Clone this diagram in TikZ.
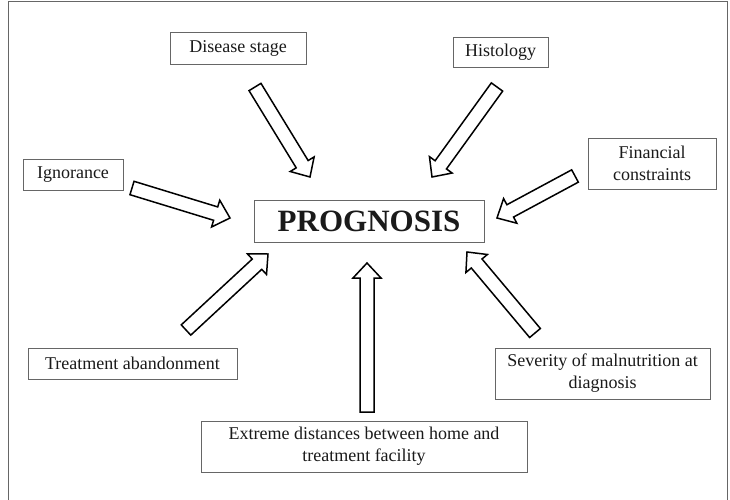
\documentclass[tikz,border=0pt]{standalone}
\usepackage{fontspec}
\setmainfont{Liberation Serif}
\usetikzlibrary{calc}
\definecolor{boxline}{HTML}{666666}
\definecolor{txt}{HTML}{1A1A1A}
\tikzset{
  factor/.style={draw=boxline, line width=0.9pt, inner sep=0pt, align=center,
    text=txt, font=\fontsize{18}{22}\selectfont},
  barrow/.style={draw=black, line width=1.5pt, fill=white, line join=miter},
}
\newcommand\blockarrow[2]{%
  \coordinate (hb) at ($(#2)!15pt!(#1)$);
  \draw[barrow] ($(#1)!7pt!90:(#2)$) -- ($(hb)!7pt!90:(#2)$) -- ($(hb)!14pt!90:(#2)$)
    -- (#2) -- ($(hb)!14pt!-90:(#2)$) -- ($(hb)!7pt!-90:(#2)$) -- ($(#1)!7pt!-90:(#2)$) -- cycle;}
\begin{document}
\begin{tikzpicture}[x=1pt,y=-1pt]
\useasboundingbox (0,0) rectangle (730,500);
\fill[white] (0,0) rectangle (730,500);
\draw[boxline, line width=1pt] (8,500) -- (8,2) -- (727,2) -- (727,500);

\node[factor, minimum width=136pt, minimum height=32pt] (dis) at (238,48) {Disease stage};
\node[factor, minimum width=95pt, minimum height=30pt] (hist) at (500.5,52) {Histology};
\node[factor, minimum width=100pt, minimum height=31pt] (ign) at (73,174.5) {Ignorance};
\node[factor, minimum width=128pt, minimum height=51pt] (fin) at (652,163.5) {Financial\\constraints};
\node[factor, minimum width=230pt, minimum height=42pt, font=\fontsize{31}{34}\selectfont\bfseries] (prog) at (369,221) {PROGNOSIS};
\node[factor, minimum width=209pt, minimum height=31pt] (treat) at (132.5,363.5) {Treatment abandonment};
\node[factor, minimum width=215pt, minimum height=51pt] (sev) at (602.5,373.5) {Severity of malnutrition at\\diagnosis};
\node[factor, minimum width=326pt, minimum height=51pt] (ext) at (364,446.5) {Extreme distances between home and\\treatment facility};

\coordinate (disT) at (255,87);  \coordinate (disP) at (310,177);
\coordinate (hisT) at (497,87);  \coordinate (hisP) at (432,177);
\coordinate (ignT) at (132,188); \coordinate (ignP) at (230,218);
\coordinate (finT) at (575,176); \coordinate (finP) at (497,218);
\coordinate (treT) at (186,330); \coordinate (treP) at (268,254);
\coordinate (extT) at (367,412); \coordinate (extP) at (367,263);
\coordinate (sevT) at (535,333); \coordinate (sevP) at (467,252);

\blockarrow{disT}{disP}
\blockarrow{hisT}{hisP}
\blockarrow{ignT}{ignP}
\blockarrow{finT}{finP}
\blockarrow{treT}{treP}
\blockarrow{extT}{extP}
\blockarrow{sevT}{sevP}
\end{tikzpicture}
\end{document}
